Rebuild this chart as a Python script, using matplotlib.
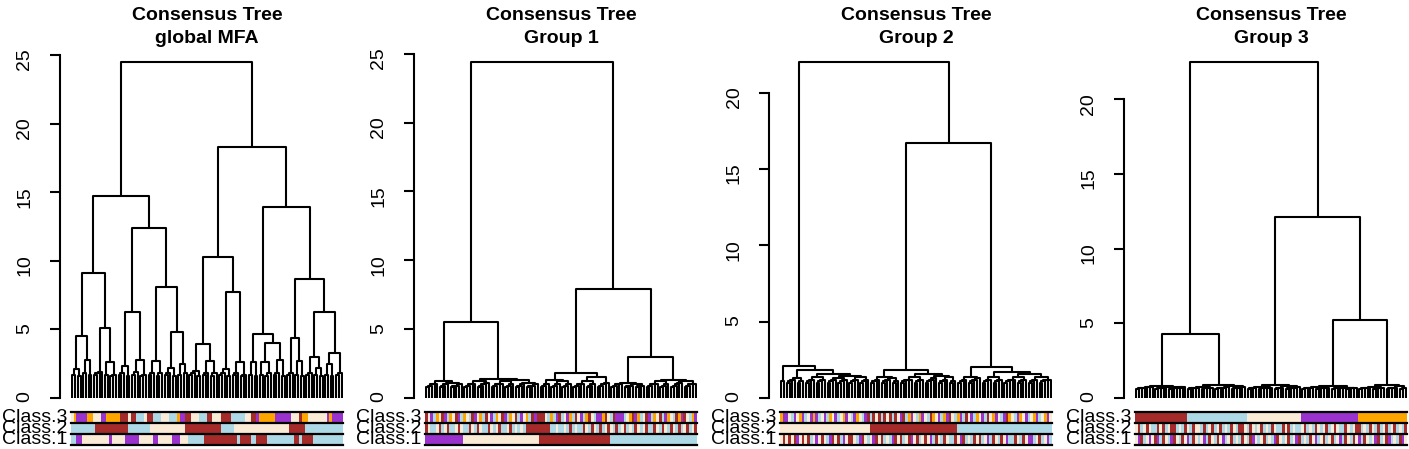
import numpy as np
import matplotlib.pyplot as plt
from matplotlib.colors import to_rgb

plt.rcParams['font.family'] = ['Liberation Sans', 'DejaVu Sans']

# Consensus trees: (merge height, left, right); a list is a small chain of leaves
# merged one after the other at the listed heights
tree_mfa = (24.5,
    (14.7,
        (9.1,
            (4.5, (2.1, [1.7], [1.6]), (2.8, [1.8], [1.7])),
            (5.1, [1.7, 1.8, 1.9], (2.6, [1.7], [1.6, 1.7]))),
        (12.4,
            (6.3, (2.3, [1.7, 1.8], [1.6]), (2.8, [1.7, 1.9], [1.6, 1.7])),
            (8.1, (2.7, [1.7, 1.8], [1.6, 1.8]),
                  (4.8, (2.2, [1.7, 1.8], [1.6]), (2.5, [1.7], [1.8]))))),
    (18.3,
        (10.3,
            (3.9, (2.0, [1.7, 1.8], [1.6]), (2.7, [1.7, 1.8], [1.6, 1.8])),
            (7.7, (2.1, [1.7, 1.8], [1.6]), (2.6, [1.7, 1.8], [1.6, 1.7]))),
        (13.9,
            (4.7, (2.6, [1.7], [1.6]),
                  (4.0, (2.6, [1.7], [1.6, 1.8]), (2.8, [1.7, 1.8], [1.6]))),
            (8.7, (4.4, [1.7, 1.8], (2.7, [1.7], [1.6])),
                  (6.3, (3.0, [1.7, 1.8], (2.2, [1.7], [1.6])),
                        (3.3, (2.5, [1.7], [1.6]), [1.7, 1.8]))))))

tree_g1 = (24.4,
    (5.5,
        (1.2, [0.8, 0.9, 1.0, 1.0], (1.1, [0.8, 0.9, 1.0], [0.8, 0.9, 0.9, 1.0])),
        (1.4, (1.2, [0.8, 0.9, 1.0, 1.0], [0.8, 0.9, 1.0, 1.1]),
              (1.3, (1.2, [0.8, 0.9, 1.0, 1.0], [0.8, 0.9, 1.0]),
                    (1.1, [0.8, 0.9, 1.0], [0.8, 0.9, 0.9, 1.0])))),
    (7.9,
        (1.8, (1.3, [0.8, 0.9, 1.0], (1.2, [0.8, 0.9, 1.0], [0.8, 0.9, 1.0])),
              (1.5, (1.2, [0.8, 0.9, 1.0, 1.0], [0.8, 0.9, 1.0]), [0.8, 0.9, 1.0, 1.1])),
        (3.0, (1.1, [0.8, 0.9, 1.0, 1.0], (1.0, [0.8, 0.9, 0.9], [0.8, 0.9, 0.9])),
              (1.3, (1.2, [0.8, 0.9, 1.0, 1.0], [0.8, 0.9, 1.0]),
                    (1.2, [0.8, 0.9, 1.0, 1.1], [0.8, 0.9, 1.0, 1.0])))))

tree_g2 = (22.0,
    (2.1, [1.1],
        (1.8, (1.3, [1.0, 1.1, 1.2], [1.0, 1.1]),
              (1.6, (1.4, [1.0, 1.1, 1.2], [1.0, 1.1, 1.2]),
                    (1.45, (1.3, [1.0, 1.1, 1.2], [1.0, 1.1, 1.2]),
                           (1.35, [1.0, 1.1, 1.2], [1.0, 1.1, 1.2]))))),
    (16.7,
        (1.8, (1.4, [1.0, 1.1, 1.2], (1.3, [1.0, 1.1, 1.2], [1.0, 1.1])),
              (1.55, (1.4, [1.0, 1.1, 1.2, 1.2], [1.0, 1.1, 1.2]),
                     (1.45, [1.0, 1.1, 1.2, 1.3], (1.35, [1.0, 1.1, 1.2], [1.0, 1.1])))),
        (2.0, (1.4, [1.0, 1.1, 1.2], [1.0, 1.1, 1.2, 1.3]),
              (1.7, (1.4, [1.0, 1.1, 1.2], [1.0, 1.1, 1.2]),
                    (1.55, (1.35, [1.0, 1.1, 1.2, 1.2], [1.0, 1.1, 1.2]),
                           (1.4, [1.0, 1.1, 1.2], [1.0, 1.1, 1.2, 1.2]))))))

tree_g3 = (22.5,
    (4.3,
        (0.8, [0.6, 0.65, 0.7, 0.7, 0.75, 0.75],
              (0.75, [0.6, 0.65, 0.7, 0.7], [0.6, 0.65, 0.7, 0.7, 0.7, 0.75])),
        (0.85, (0.75, [0.6, 0.65, 0.7, 0.7], [0.6, 0.65, 0.7, 0.7]),
               (0.8, [0.6, 0.65, 0.7, 0.7, 0.75], [0.6, 0.65, 0.7, 0.7, 0.75]))),
    (12.1,
        (0.9, (0.75, [0.6, 0.65, 0.7], [0.6, 0.65, 0.7, 0.7, 0.7]),
              (0.8, [0.6, 0.65, 0.7], [0.6, 0.65, 0.7, 0.7, 0.75])),
        (5.2,
            (0.8, (0.75, [0.6, 0.65, 0.7, 0.7], [0.6, 0.65, 0.7, 0.7, 0.7]),
                  (0.7, [0.6, 0.65, 0.7, 0.7], [0.6, 0.65, 0.7, 0.7])),
            (0.85, (0.75, [0.6, 0.65, 0.7, 0.7], [0.6, 0.65, 0.7, 0.7]),
                   (0.8, [0.6, 0.65, 0.7, 0.7], [0.6, 0.65])))))

# class membership of each leaf, in dendrogram order
# r=brown, b=lightblue, w=antiquewhite, p=purple, o=orange
class3 = [
    "woppppooww wppooooorr rwrrbbbwrr bbbwwwbbbo pprrwwwbbb rrwwwrrrrb bbbbwwrrpo oooooppppp pwwwroowww wwwwpopppp",
    "rwpbowrpbo wrpbowbrpw obrwpbowrp bowrbpwobr prrrwbobpr bwpobrwpbo rwbpporwbr pppbworpob wrpbowrbpo wbroprwbop",
    "oppwbpwopb wpopbwpbow pbwopwbpow bprbrwrbrw rbrwprbopw bopwbrowpb oprwbopbrw pbowpbrwop wbprowbpow pbwopbwopw",
    "rrrrrrrrrr rrrrrrrrrb bbbbbbbbbb bbbbbbbbbb bwwwwwwwww wwwwwwwwww wppppppppp pppppppppp ppoooooooo oooooooooo",
]
class2 = [
    "bbbbbbbbbr rrrrrrrrrr rbbbbbbbbw wwwwwwwwww wwrrrrrrrr rrrrrbbbbb wwwwwwwwww wwwwwwwwww rrrrrrbbbb bbbbbbbbbb",
    "rwbbwrbwrb bwrwbbrwbr wbbrwbwrbb wrbwbwbrrr rrrrrrbbwb bwbrbwbbrw brwbrbwrwb rbwrbwbrwb wrbbrwbrwb rwbrbwrbwr",
    "wwwwwwwwww wwwwwwwwww wwwwwwwwww wwwrrrrrrr rrrrrrrrrr rrrrrrrrrr rrrrrbbbbb bbbbbbbbbb bbbbbbbbbb bbbbbbbbbb",
    "wrbwrwbbrw rbwrrbwbrw brwwbrbwrb wrbwbrwbrr wbrwbwrbwb rwbbrwrbwb bwrbwbrwbw rbwrwbbrwb wrrbwbrwbr bwrbwrbwbr",
]
class1 = [
    "bbppwwwwww wwwwpwwwww pppppwwwww ppwwwwwppp wwwbbbbbbr rrrrrrrrrr rbrrrrbbrr rrbbbbbbbb bbrrbrrrrb bbbbbbbbbb",
    "pppppppppp ppppwwwwww wwwwwwwwww wwwwwwwwww wwrrrrrrrr rrrrrrrrrr rrrrrrrrbb bbbbbbbbbb bbbbbbbbbb bbbbbbbbbb",
    "wrwrwrpwrw rbwpwrwbpr wrbpwrrwbp rwbwprwrbw bprwrbwrpw rbwrwpbrwb rwbbrwprbw brwrbwpbrw brwpbbrwbr wppbwrbwpb",
    "wprbwpwrpb rwbprwbrwp brwbwpbrwb rwpbwrbwbr wbrpwbwrbw bprwbwrbwp rbwbrwpbwr bwrbwpbrwb rwpbrwbwpr bwrpbwbrpw",
]

titles = ["Consensus Tree\nglobal MFA", "Consensus Tree\nGroup 1",
          "Consensus Tree\nGroup 2", "Consensus Tree\nGroup 3"]
trees = [tree_mfa, tree_g1, tree_g2, tree_g3]
ytop = [25, 25, 20, 20]
row_names = ["Class.3", "Class.2", "Class.1"]

palette = {'r': '#A52A2A', 'b': '#ADD8E6', 'w': '#FAEBD7', 'p': '#9A32CD', 'o': '#FFA500'}


def draw(ax, node, pos):
    # returns x and height of the node top, leaves numbered from 1
    if isinstance(node, list):
        x = pos[0]
        h = 0.0
        pos[0] += 1
        for hm in node:
            xl = pos[0]
            pos[0] += 1
            ax.plot([x, x, xl, xl], [h, hm, hm, 0], color='black', lw=1.5,
                    solid_capstyle='butt')
            x = (x + xl) / 2
            h = hm
        return x, h
    hm, left, right = node
    xa, ha = draw(ax, left, pos)
    xb, hb = draw(ax, right, pos)
    ax.plot([xa, xa, xb, xb], [ha, hm, hm, hb], color='black', lw=1.5,
            solid_capstyle='butt')
    return (xa + xb) / 2, hm


W, H = 1409, 449
fig = plt.figure(figsize=(W / 100, H / 100), dpi=100)
bar_left = [71, 425, 780, 1135]
bar_w = 272

for k in range(4):
    tree = trees[k]
    top = tree[0]
    ax = fig.add_axes([bar_left[k] / W, 1 - 411.4 / H, bar_w / W, (411.4 - 48.6) / H])
    ax.patch.set_visible(False)
    pos = [1]
    draw(ax, tree, pos)
    n = pos[0] - 1
    ax.set_xlim(0.5, n + 0.5)
    ax.set_ylim(-0.04 * top, 1.04 * top)
    for s in ['top', 'right', 'bottom']:
        ax.spines[s].set_visible(False)
    ax.spines['left'].set_bounds(0, ytop[k])
    ax.spines['left'].set_position(('outward', 8))
    ax.spines['left'].set_linewidth(1.5)
    ax.set_xticks([])
    ax.set_yticks(range(0, ytop[k] + 1, 5))
    ax.tick_params(axis='y', length=7, width=1.5, labelsize=14, pad=12,
                   labelrotation=90, colors='black')
    ax.set_title(titles[k], fontsize=14, fontweight='bold', pad=4, linespacing=1.45)

    cax = fig.add_axes([bar_left[k] / W, 1 - 445 / H, bar_w / W, 33 / H])
    rows = [class3[k], class2[k], class1[k]]
    img = np.array([[to_rgb(palette[c]) for c in r.replace(' ', '')] for r in rows])
    cax.imshow(img, aspect='auto', extent=(0.5, n + 0.5, 0, 3), interpolation='nearest')
    for yl in [0, 1, 2, 3]:
        cax.axhline(yl, color='black', lw=1.6, clip_on=False)
    cax.set_xlim(0.5, n + 0.5)
    cax.set_ylim(0, 3)
    cax.axis('off')
    for i, name in enumerate(row_names):
        cax.text(-0.012, 2.5 - i, name, transform=cax.get_yaxis_transform(),
                 ha='right', va='center', fontsize=14)

fig.savefig("out.png", dpi=100)
